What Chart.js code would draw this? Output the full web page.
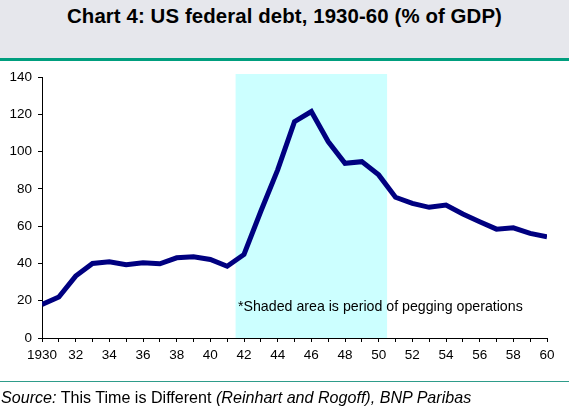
<!DOCTYPE html>
<html>
<head>
<meta charset="utf-8">
<script src="https://cdn.jsdelivr.net/npm/chart.js@4/dist/chart.umd.min.js"></script>
<style>
  html, body { margin:0; padding:0; background:#fff; }
  body { width:569px; height:415px; position:relative; overflow:hidden; font-family:"Liberation Sans", Arial, sans-serif; }
  #band { position:absolute; left:0; top:0; width:569px; height:58px; background:#E6E7EC; }
  #bandline { position:absolute; left:0; top:58px; width:569px; height:3px; background:#009E7E; }
  #title { position:absolute; left:0; top:5px; width:569px; text-align:center; font-weight:bold; font-size:20.4px; letter-spacing:0.1px; color:#000; }
  #wrap { position:absolute; left:0; top:0; width:569px; height:415px; }
  #note { position:absolute; left:238px; top:297.5px; font-size:14.2px; color:#000; white-space:nowrap; }
  #footline { position:absolute; left:0; top:381px; width:569px; height:1px; background:#2E9C8A; }
  #source { position:absolute; left:1px; top:388px; font-size:16.1px; color:#000; white-space:nowrap; }
</style>
</head>
<body>
<div id="band"></div>
<div id="bandline"></div>
<div id="title">Chart 4: US federal debt, 1930-60 (% of GDP)</div>
<div id="wrap"><canvas id="c" width="569" height="415"></canvas></div>
<div id="note">*Shaded area is period of pegging operations</div>
<div id="footline"></div>
<div id="source"><i>Source:</i> This Time is Different <i>(Reinhart and Rogoff), BNP Paribas</i></div>
<script>
const years = [1930,1931,1932,1933,1934,1935,1936,1937,1938,1939,1940,1941,1942,1943,1944,1945,1946,1947,1948,1949,1950,1951,1952,1953,1954,1955,1956,1957,1958,1959,1960];
const debtPctGDP = [18,22,33.2,40,40.9,39.3,40.3,39.8,43,43.6,42.1,38.5,44.8,68,90.2,116.1,121.5,105.4,93.7,94.6,87.5,75.5,72.2,70.1,71.3,66.5,62.4,58.4,59.1,56.1,54.3];
const yTicks = [0,20,40,60,80,100,120,140];
const shadeStart = 1941.5, shadeEnd = 1950.5;

const shadePlugin = {
  id: 'shade',
  beforeDraw(chart) {
    const {ctx, chartArea, scales} = chart;
    const x1 = scales.x.getPixelForValue(shadeStart);
    const x2 = scales.x.getPixelForValue(shadeEnd);
    ctx.save();
    ctx.fillStyle = '#CCFFFF';
    ctx.fillRect(x1, chartArea.top - 3, x2 - x1, chartArea.bottom - chartArea.top + 3);
    ctx.restore();
  }
};

new Chart(document.getElementById('c'), {
  type: 'line',
  data: {
    datasets: [{
      data: years.map((y, i) => ({x: y, y: debtPctGDP[i]})),
      borderColor: '#000080',
      borderWidth: 5,
      pointRadius: 0,
      tension: 0,
      fill: false
    }]
  },
  options: {
    responsive: false,
    animation: false,
    devicePixelRatio: 1,
    layout: { padding: { top: 77, left: 0, right: 22, bottom: 52 } },
    plugins: { legend: { display: false }, tooltip: { enabled: false } },
    scales: {
      x: {
        type: 'linear', min: 1930, max: 1960,
        afterFit(s) { s.height = 25; },
        afterBuildTicks(s) { s.ticks = years.map(v => ({value: v})); },
        ticks: {
          autoSkip: false, maxRotation: 0, minRotation: 0, padding: 5,
          color: '#000', font: { family: '"Liberation Sans", Arial, sans-serif', size: 13.5 },
          callback(v) { v = Math.round(v); if (v % 2) return ''; return v === 1930 ? '1930' : String(v % 100).padStart(2, '0'); }
        },
        grid: { drawOnChartArea: false, drawTicks: true, tickLength: 4, color: '#000', lineWidth: 1 },
        border: { display: true, color: '#000', width: 1 }
      },
      y: {
        min: 0, max: 140,
        afterFit(s) { s.width = 42; },
        afterBuildTicks(s) { s.ticks = yTicks.map(v => ({value: v})); },
        ticks: {
          padding: 6, color: '#000',
          font: { family: '"Liberation Sans", Arial, sans-serif', size: 13.5 }
        },
        grid: { drawOnChartArea: false, drawTicks: true, tickLength: 4, color: '#000', lineWidth: 1 },
        border: { display: true, color: '#000', width: 1 }
      }
    }
  },
  plugins: [shadePlugin]
});
</script>
</body>
</html>
